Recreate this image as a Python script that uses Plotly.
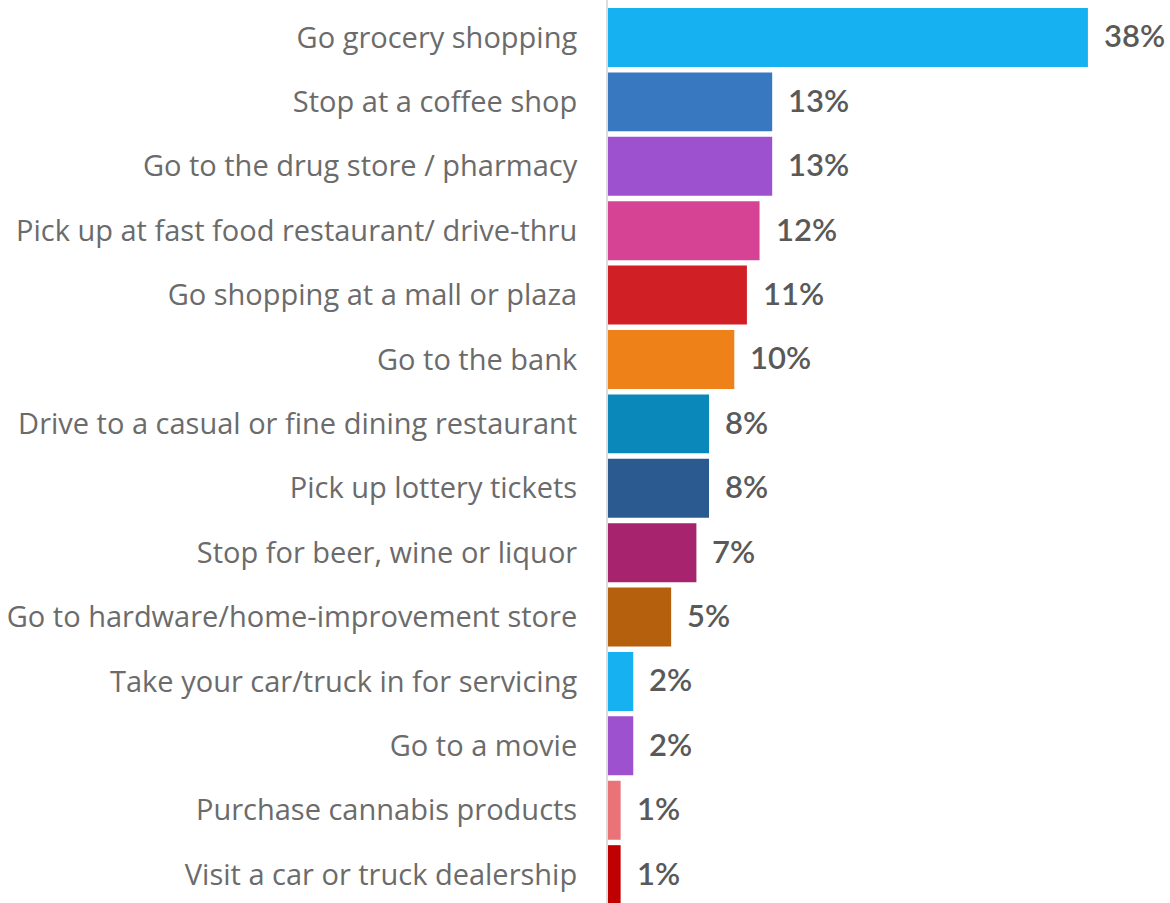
import plotly.graph_objects as go

categories = [
    "Go grocery shopping",
    "Stop at a coffee shop",
    "Go to the drug store / pharmacy",
    "Pick up at fast food restaurant/ drive-thru",
    "Go shopping at a mall or plaza",
    "Go to the bank",
    "Drive to a casual or fine dining restaurant",
    "Pick up lottery tickets",
    "Stop for beer, wine or liquor",
    "Go to hardware/home-improvement store",
    "Take your car/truck in for servicing",
    "Go to a movie",
    "Purchase cannabis products",
    "Visit a car or truck dealership",
]
values = [38, 13, 13, 12, 11, 10, 8, 8, 7, 5, 2, 2, 1, 1]
colors = [
    "#15B1F1", "#3878C1", "#9E51CE", "#D74394", "#D02026", "#EE8218", "#0A88BA",
    "#2A5A8F", "#A8236D", "#B5600C", "#15B1F1", "#9E51CE", "#E97376", "#C00000",
]

fig = go.Figure(
    go.Bar(
        x=values,
        y=categories,
        orientation="h",
        marker=dict(color=colors, line=dict(width=0)),
        width=0.916,
        hoverinfo="skip",
    )
)

# value labels placed just right of each bar end
for cat, v in zip(categories, values):
    fig.add_annotation(
        x=v, y=cat, text=f"{v}%", showarrow=False,
        xanchor="left", xshift=14, yshift=2,
        font=dict(family="Lato", size=31, color="#595959", weight=600),
    )

fig.update_layout(
    width=1170, height=903,
    margin=dict(l=608, r=0, t=0, b=0),
    paper_bgcolor="white", plot_bgcolor="white",
    showlegend=False,
    xaxis=dict(range=[0, 44.5], visible=False, fixedrange=True),
    yaxis=dict(
        type="category",
        categoryorder="array", categoryarray=categories,
        range=[13.44, -0.582],
        showgrid=False, zeroline=False,
        showline=True, linecolor="#DCDCDC", linewidth=2,
        ticks="", ticklabelstandoff=23,
        tickfont=dict(family="Open Sans", size=29, color="#6B6B6B"),
    ),
)

fig.write_html("out.html")
